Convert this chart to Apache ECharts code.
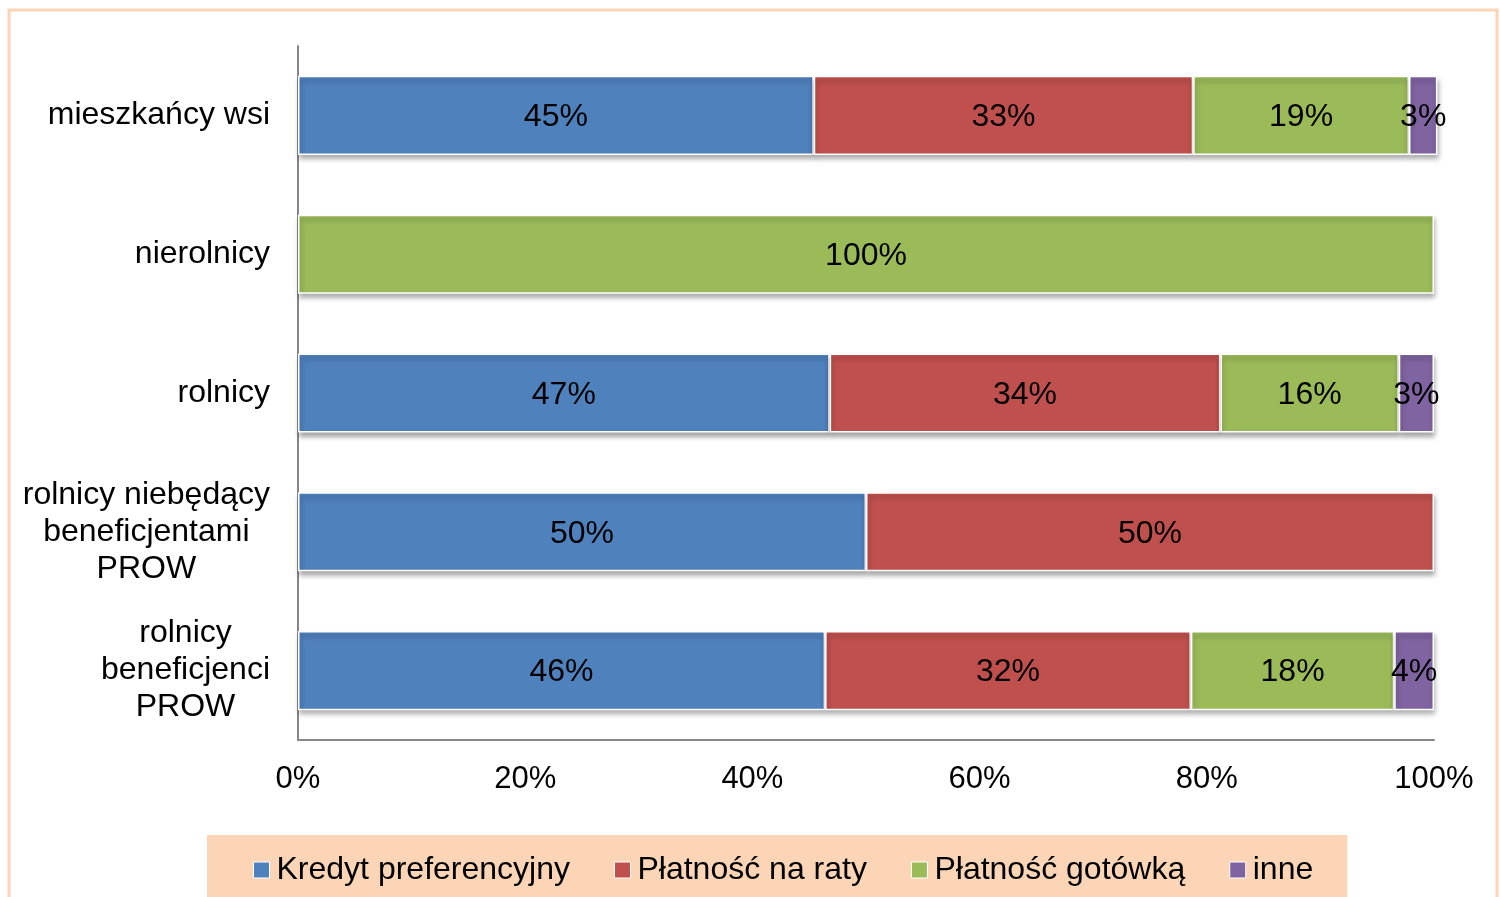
<!DOCTYPE html>
<html>
<head>
<meta charset="utf-8">
<script src="https://cdn.jsdelivr.net/npm/echarts@6/dist/echarts.min.js"></script>
<style>
html,body{margin:0;padding:0;background:#fff;}
#c{width:1501px;height:897px;}
</style>
</head>
<body>
<div id="c"></div>
<script>
var categories = ['mieszkańcy wsi', 'nierolnicy', 'rolnicy', 'rolnicy niebędący\nbeneficjentami\nPROW', 'rolnicy\nbeneficjenci\nPROW'];
var seriesNames = ['Kredyt preferencyjny', 'Płatność na raty', 'Płatność gotówką', 'inne'];
var kredyt = [45.4, null, 46.8, 50, 46.4];
var raty = [33.4, null, 34.4, 50, 32.2];
var gotowka = [19.0, 100, 15.7, null, 17.9];
var inne = [2.5, null, 3.1, null, 3.5];
var xTicks = [0, 20, 40, 60, 80, 100];
var colors = ['#4F81BD', '#C0504D', '#9BBB59', '#8064A2'];

var FONT = "'Liberation Sans', Arial, sans-serif";
var chart = echarts.init(document.getElementById('c'), null, {renderer: 'canvas'});

function mk(name, data, color) {
  return {
    name: name,
    type: 'bar',
    stack: 'total',
    barWidth: '57%',
    clip: false,
    data: data,
    itemStyle: {
      color: color,
      borderColor: '#ffffff',
      borderWidth: 1.5,
      shadowColor: 'rgba(0,0,0,0.35)',
      shadowBlur: 5,
      shadowOffsetX: 1,
      shadowOffsetY: 4
    },
    label: {
      show: true,
      position: 'inside',
      offset: [0, 2],
      color: '#000',
      fontFamily: FONT,
      fontSize: 32,
      formatter: function (p) { return (p.value == null) ? '' : Math.round(p.value) + '%'; }
    },
    emphasis: {disabled: true}
  };
}

var option = {
  animation: false,
  backgroundColor: '#ffffff',
  textStyle: {fontFamily: FONT},
  graphic: [{
    type: 'rect',
    shape: {x: 9, y: 10, width: 1488, height: 920},
    style: {fill: 'none', stroke: '#FBD5B5', lineWidth: 3},
    silent: true,
    z: -10
  }],
  grid: {left: 298, right: 67, top: 46, bottom: 157},
  legend: {
    data: seriesNames,
    left: 207,
    top: 835,
    backgroundColor: '#FBD5B5',
    padding: [19, 34, 20, 46],
    itemGap: 44,
    itemWidth: 16,
    itemHeight: 16,
    icon: 'rect',
    itemStyle: {borderColor: '#fff', borderWidth: 1},
    textStyle: {fontFamily: FONT, fontSize: 32, color: '#000', padding: [0, 0, 0, 2]},
    selectedMode: false
  },
  xAxis: {
    type: 'value',
    min: 0,
    max: 100,
    interval: 20,
    axisLine: {show: true, lineStyle: {color: '#868686', width: 2}},
    axisTick: {show: false},
    splitLine: {show: false},
    axisLabel: {
      color: '#000',
      fontFamily: FONT,
      fontSize: 31,
      margin: 24,
      formatter: function (v) { return xTicks.indexOf(v) >= 0 ? v + '%' : ''; }
    }
  },
  yAxis: {
    type: 'category',
    inverse: true,
    data: categories,
    axisLine: {show: true, lineStyle: {color: '#868686', width: 2}},
    axisTick: {show: false},
    axisLabel: {
      color: '#000',
      fontFamily: FONT,
      fontSize: 32,
      margin: 28,
      lineHeight: 37,
      formatter: function (v) {
        return v.split('\n').map(function (l) { return '{c|' + l + '}'; }).join('\n');
      },
      rich: {c: {align: 'center', fontFamily: FONT, fontSize: 32, lineHeight: 37, color: '#000'}}
    }
  },
  series: [
    mk(seriesNames[0], kredyt, colors[0]),
    mk(seriesNames[1], raty, colors[1]),
    mk(seriesNames[2], gotowka, colors[2]),
    mk(seriesNames[3], inne, colors[3])
  ]
};
chart.setOption(option);
</script>
</body>
</html>
